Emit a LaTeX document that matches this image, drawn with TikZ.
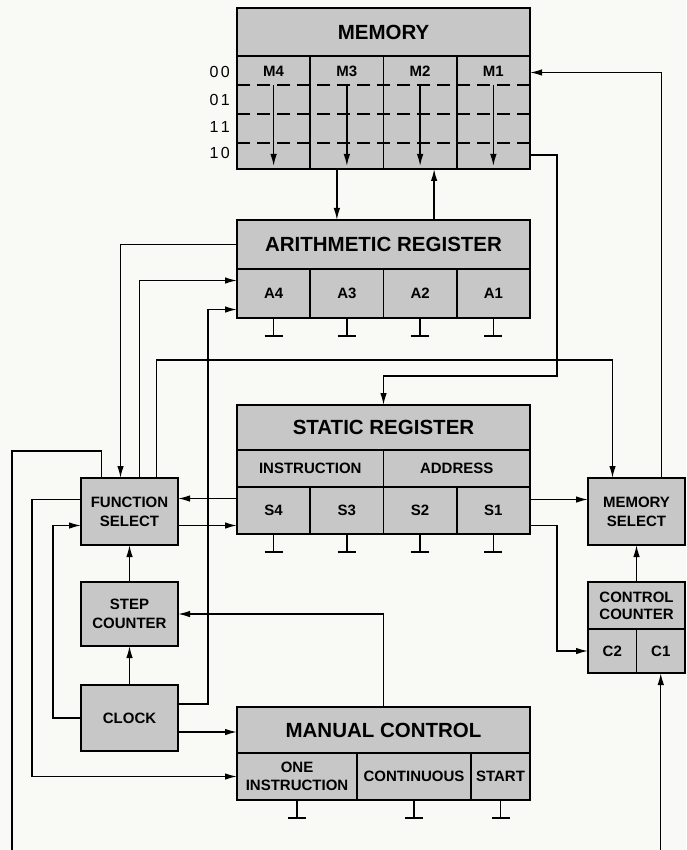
\documentclass[tikz,border=0pt]{standalone}
\usepackage{fontspec}
\setmainfont{Liberation Sans}
\usetikzlibrary{arrows.meta, positioning}
\definecolor{boxgray}{gray}{0.78}
\definecolor{paper}{rgb}{0.975,0.975,0.965}
\tikzset{%
   % shaded block, sizes are given per node
   blk/.style={
      draw,
      fill=boxgray,
      line width=1.6pt,
      inner sep=0pt,
      outer sep=0pt,
      align=center,
      font=\fontsize{15}{19}\selectfont\bfseries
   },
   ttl/.style={
      blk,
      minimum width=293pt,
      font=\fontsize{20.5}{22}\selectfont\bfseries
   },
   cell/.style={
      blk,
      minimum width=73.25pt
   },
   lbl/.style={
      inner sep=0pt,
      font=\fontsize{15}{17}\selectfont\bfseries
   },
   rowlbl/.style={
      inner sep=0pt,
      anchor=east,
      font=\fontsize{16}{17}\selectfont
   },
   wire/.style={line width=1.4pt},
   arr/.style={wire, -{Latex[length=12pt, width=6.5pt]}},
   gnd/.pic={\draw[wire] (0,0) -- (0,18) (-9,18) -- (9,18);},
}

\begin{document}
\begin{tikzpicture}[x=1pt, y=-1pt]
\fill[paper] (0,0) rectangle (686,850);
\useasboundingbox (0,0) rectangle (686,850);

% memory
\node[ttl, minimum height=48pt, anchor=north west] (memt) at (237,8) {MEMORY};
\node[cell, minimum height=113pt, anchor=north west] (m4) at (memt.south west) {};
\node[cell, minimum height=113pt, right=0pt of m4] (m3) {};
\node[cell, minimum height=113pt, right=0pt of m3] (m2) {};
\node[cell, minimum height=113pt, right=0pt of m2] (m1) {};
\foreach \m/\txt in {m4/M4, m3/M3, m2/M2, m1/M1} {
   \node[lbl, below=10pt of \m.north] (\m l) {\txt};
   \draw[arr] ([yshift=-29pt]\m.north) -- ([yshift=3pt]\m.south);
}
\foreach \d in {29,58,87}
   \draw[wire, dash pattern=on 13pt off 7pt] ([yshift=-\d pt]m4.north west) -- ([yshift=-\d pt]m1.north east);
\foreach \ra/\rb/\d in {0/0/16, 0/1/44, 1/1/71, 1/0/97}
   \node[rowlbl] (r\ra\rb) at ([xshift=-7pt, yshift=-\d pt]m4.north west) {\ra\kern2.5pt\rb};

% arithmetic register
\node[ttl, minimum height=49pt, anchor=north west] (art) at (237,220) {ARITHMETIC REGISTER};
\node[cell, minimum height=49pt, anchor=north west] (a4) at (art.south west) {A4};
\node[cell, minimum height=49pt, right=0pt of a4] (a3) {A3};
\node[cell, minimum height=49pt, right=0pt of a3] (a2) {A2};
\node[cell, minimum height=49pt, right=0pt of a2] (a1) {A1};

% static register
\node[ttl, minimum height=45pt, anchor=north west] (stt) at (237,405) {STATIC REGISTER};
\node[blk, minimum width=146.5pt, minimum height=37pt, anchor=north west] (instr) at (stt.south west) {INSTRUCTION};
\node[blk, minimum width=146.5pt, minimum height=37pt, right=0pt of instr] (addr) {ADDRESS};
\node[cell, minimum height=47pt, anchor=north west] (s4) at (instr.south west) {S4};
\node[cell, minimum height=47pt, right=0pt of s4] (s3) {S3};
\node[cell, minimum height=47pt, right=0pt of s3] (s2) {S2};
\node[cell, minimum height=47pt, right=0pt of s2] (s1) {S1};

% left column
\node[blk, minimum width=97pt, minimum height=67pt, anchor=north west] (fs) at (81,478) {FUNCTION\\SELECT};
\node[blk, minimum width=97pt, minimum height=64pt, below=37pt of fs] (sc) {STEP\\COUNTER};
\node[blk, minimum width=97pt, minimum height=66pt, below=39pt of sc] (ck) {CLOCK};

% manual control
\node[ttl, minimum height=46pt, anchor=north west] (mct) at (237,707) {MANUAL CONTROL};
\node[blk, minimum width=120pt, minimum height=47pt, anchor=north west, font=\fontsize{15}{18}\selectfont\bfseries] (oneins) at (mct.south west) {ONE\\INSTRUCTION};
\node[blk, minimum width=114pt, minimum height=47pt, right=0pt of oneins] (cont) {CONTINUOUS};
\node[blk, minimum width=59pt, minimum height=47pt, right=0pt of cont] (start) {START};

% right column
\node[blk, minimum width=97pt, minimum height=67pt, anchor=north west] (ms) at (588,478) {MEMORY\\SELECT};
\node[blk, minimum width=97pt, minimum height=47pt, below=37pt of ms, font=\fontsize{15}{17}\selectfont\bfseries] (cct) {CONTROL\\COUNTER};
\node[blk, minimum width=48.5pt, minimum height=44pt, anchor=north west] (c2) at (cct.south west) {C2};
\node[blk, minimum width=48.5pt, minimum height=44pt, right=0pt of c2] (c1) {C1};

\foreach \g in {a4,a3,a2,a1,s4,s3,s2,s1,oneins,cont,start}
   \pic at (\g.south) {gnd};

\coordinate (offl) at (12,850);
\coordinate (offr) at (c1.south |- 0,850);
\coordinate (dn3) at ([xshift=-10pt]m3.south);
\coordinate (up2) at ([xshift=14pt]m2.south);

% memory <-> registers
\draw[arr] (dn3) -- (dn3 |- art.north);
\draw[arr] (up2 |- art.north) -- (up2);
\draw[arr] ([yshift=14pt]m1.south east) -- ++(27,0) |- ([yshift=29pt]stt.north) -- (stt.north);
\draw[arr] ([xshift=25pt]ms.north) |- ([yshift=40pt]m1.east);

% function select
\draw[arr] (art.west) -| ([xshift=-9pt]fs.north);
\draw[arr] ([xshift=10pt]fs.north) |- ([yshift=13pt]a4.west);
\draw[arr] ([xshift=27pt]fs.north) -- ++(0,-118) -| ([xshift=-24pt]ms.north);
\draw[wire] ([xshift=-28pt]fs.north) -- ++(0,-27) -| (offl);
\draw[arr] ([yshift=12pt]s4.west) -- ([yshift=12pt]s4.west -| fs.east);
\draw[arr] ([yshift=-14pt]fs.east) -- ([yshift=-14pt]fs.east -| s4.west);
\draw[arr] ([yshift=12pt]fs.west) -- ++(-49,0) |- (oneins.west);

% static register to memory select and control counter
\draw[arr] ([yshift=11pt]s1.east) -- ([yshift=11pt]s1.east -| ms.west);
\draw[arr] ([yshift=-15pt]s1.east) -- ++(27,0) |- (c2.west);
\draw[arr] (cct.north) -- (ms.south);
\draw[arr] (offr) -- (c1.south);

% timing
\draw[arr] (sc.north) -- (fs.south);
\draw[arr] (ck.north) -- (sc.south);
\draw[arr] (ck.west) -- ++(-28,0) |- ([yshift=-14pt]fs.west);
\draw[arr] ([yshift=14pt]ck.east) -- ++(30,0) |- ([yshift=-16pt]a4.west);
\draw[arr] ([yshift=-14pt]ck.east) -- ([yshift=-14pt]ck.east -| mct.west);
\draw[arr] (mct.north) |- (sc.east);
\end{tikzpicture}
\end{document}
